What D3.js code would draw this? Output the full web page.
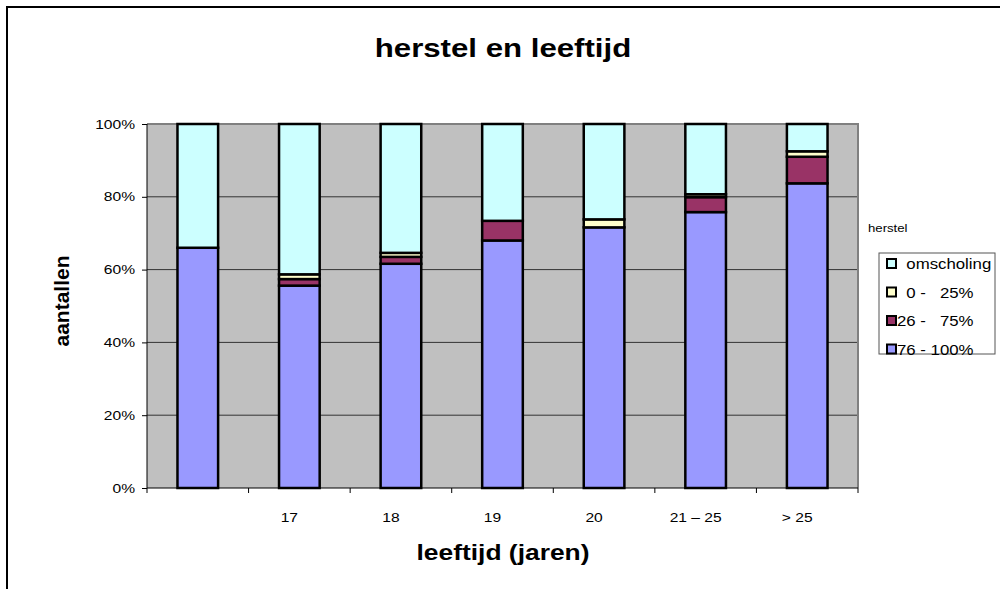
<!DOCTYPE html>
<html>
<head>
<meta charset="utf-8">
<script src="https://cdn.jsdelivr.net/npm/d3@7"></script>
<style>
  body { margin: 0; background: #fff; }
  svg text { font-family: Arial, "Liberation Sans", sans-serif; }
</style>
</head>
<body>
<div id="chart"></div>
<script>
"use strict";

// categories (first one has no label in the original)
var categories = ["", "17", "18", "19", "20", "21 \u2013 25", "> 25"];

// series, bottom to top, percentages
var pct76to100 = [66.0, 55.6, 61.6, 68.0, 71.6, 75.8, 83.7];
var pct26to75  = [0.0, 1.8, 1.9, 5.4, 0.0, 4.1, 7.3];
var pct0to25   = [0.0, 1.3, 1.1, 0.0, 2.2, 0.8, 1.5];
var omscholing = [34.0, 41.3, 35.4, 26.6, 26.2, 19.3, 7.5];

var seriesNames = ["76 - 100%", "26 -   75%", "  0 -   25%", "  omscholing"];
var seriesColors = ["#9999ff", "#993366", "#ffffcc", "#ccffff"];
var yTicks = [0, 20, 40, 60, 80, 100];

var width = 1000, height = 589;
var margin = {top: 124, right: 142, bottom: 101, left: 147};
var w = width - margin.left - margin.right,
    h = height - margin.top - margin.bottom;
var SX = 1.2; // the original text is a bit wider than normal Arial

// place text at x,y with horizontal stretch
function stretched(sel, x, y) {
  return sel.attr("x", x / SX).attr("y", y).attr("transform", "scale(" + SX + ",1)");
}

var svg = d3.select("#chart").append("svg")
  .attr("width", width)
  .attr("height", height);

// outer chart border
svg.append("rect")
  .attr("x", 7).attr("y", 7)
  .attr("width", 1000).attr("height", 600)
  .attr("fill", "#fff")
  .attr("stroke", "#000").attr("stroke-width", 2);

var rows = categories.map(function(c, i) {
  return {cat: i, a: pct76to100[i], b: pct26to75[i], c: pct0to25[i], d: omscholing[i]};
});
var layers = d3.stack().keys(["a", "b", "c", "d"])(rows);

var x = d3.scaleBand().domain(d3.range(categories.length)).range([0, w]);
var y = d3.scaleLinear().domain([0, 100]).range([h, 0]);

var g = svg.append("g").attr("transform", "translate(" + margin.left + "," + margin.top + ")");

// plot area
g.append("rect").attr("width", w).attr("height", h).attr("fill", "#c0c0c0");

// gridlines
g.append("g").selectAll("line").data(yTicks.slice(1, -1)).enter().append("line")
  .attr("x1", 0).attr("x2", w)
  .attr("y1", function(d) { return y(d); }).attr("y2", function(d) { return y(d); })
  .attr("stroke", "#333").attr("stroke-width", 1);

// plot area border top/right
g.append("path")
  .attr("d", "M0," + y(100) + "H" + w + "V" + h)
  .attr("fill", "none").attr("stroke", "#808080").attr("stroke-width", 2);

var barW = x.bandwidth() * 0.4;

g.append("g").selectAll("g").data(layers).enter().append("g")
  .attr("fill", function(d, i) { return seriesColors[i]; })
  .selectAll("rect").data(function(d) { return d; }).enter().append("rect")
  .attr("x", function(d) { return x(d.data.cat) + (x.bandwidth() - barW) / 2; })
  .attr("width", barW)
  .attr("y", function(d) { return y(d[1]); })
  .attr("height", function(d) { return y(d[0]) - y(d[1]); })
  .attr("stroke", "#000").attr("stroke-width", 2.5);

// y axis
var yAxis = d3.axisLeft(y).tickValues(yTicks).tickSize(5).tickFormat(function(d) { return d + "%"; });
var ya = g.append("g").call(yAxis);
ya.select(".domain").attr("stroke", "#000").attr("d", "M0,0V" + h);
ya.selectAll(".tick line").attr("stroke", "#000");
ya.selectAll(".tick text").attr("font-size", 13).attr("fill", "#000")
  .style("font-family", "Arial, 'Liberation Sans', sans-serif")
  .each(function() { stretched(d3.select(this), -12, 0); });

// x axis: ticks at category boundaries
var xa = g.append("g").attr("transform", "translate(0," + h + ")");
xa.append("line").attr("x1", 0).attr("x2", w).attr("stroke", "#000");
xa.selectAll(".bt").data(d3.range(categories.length + 1)).enter().append("line")
  .attr("x1", function(d) { return d * x.step(); }).attr("x2", function(d) { return d * x.step(); })
  .attr("y1", 0).attr("y2", 5).attr("stroke", "#000");
xa.selectAll("text").data(categories).enter().append("text")
  .attr("text-anchor", "middle")
  .attr("font-size", 13)
  .text(function(d) { return d; })
  .each(function(d, i) { stretched(d3.select(this), x(i) + x.bandwidth() / 2 - 10, 34); });

// titles
stretched(svg.append("text"), 503, 57).attr("text-anchor", "middle")
  .attr("font-size", 26).attr("font-weight", "bold").text("herstel en leeftijd");
stretched(svg.append("text"), 503, 560).attr("text-anchor", "middle")
  .attr("font-size", 22).attr("font-weight", "bold").text("leeftijd (jaren)");
svg.append("text").attr("transform", "translate(69,301) rotate(-90)").attr("text-anchor", "middle")
  .attr("font-size", 21).attr("font-weight", "bold").text("aantallen");

// legend
stretched(svg.append("text"), 868, 232).attr("font-size", 11).text("herstel");
var lg = svg.append("g").attr("transform", "translate(879,253)");
lg.append("rect").attr("width", 116).attr("height", 101)
  .attr("fill", "#fff").attr("stroke", "#555").attr("stroke-width", 1);
var items = lg.selectAll(".li").data(d3.range(4).reverse()).enter().append("g")
  .attr("transform", function(d, i) { return "translate(8," + (11 + i * 28.5) + ")"; });
items.append("rect").attr("x", 0).attr("y", -5).attr("width", 9).attr("height", 9)
  .attr("fill", function(d) { return seriesColors[d]; })
  .attr("stroke", "#000").attr("stroke-width", 2);
items.append("text").attr("font-size", 14)
  .style("white-space", "pre")
  .text(function(d) { return seriesNames[d]; })
  .each(function() { stretched(d3.select(this), 10, 5); });
</script>
</body>
</html>
